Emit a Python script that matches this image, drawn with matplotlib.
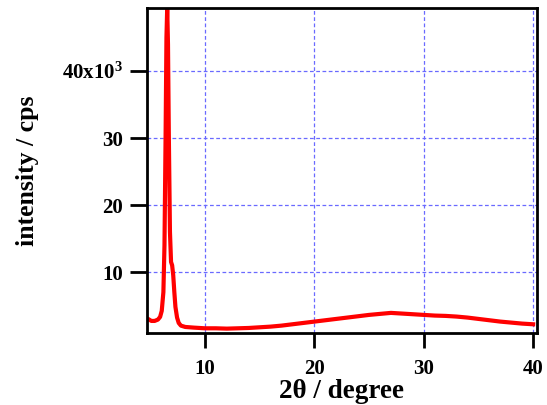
import matplotlib
matplotlib.use("Agg")
import matplotlib.pyplot as plt
from matplotlib.ticker import FixedLocator, FixedFormatter

# XRD pattern (2theta in degrees, intensity in 10^3 cps)
two_theta = [4.9, 5.1, 5.4, 5.7, 5.9, 6.05, 6.2, 6.3, 6.4, 6.48, 6.55, 6.62,
             6.7, 6.8, 6.9, 7.0, 7.1, 7.2, 7.3, 7.45, 7.6, 7.8, 8.2, 9.0,
             10.0, 11.0, 12.0, 13.0, 14.0, 15.0, 16.0, 17.0, 18.0, 19.0,
             20.0, 21.0, 22.0, 23.0, 24.0, 25.0, 26.0, 27.0, 28.0, 29.0,
             30.0, 31.0, 32.0, 33.0, 34.0, 35.0, 36.0, 37.0, 38.0, 39.0, 40.0]
intensity = [2.9, 2.7, 2.7, 2.9, 3.3, 4.2, 7.0, 14.0, 30.0, 45.0, 49.5, 44.0,
             30.0, 16.0, 11.5, 11.0, 9.5, 7.0, 4.8, 3.2, 2.4, 2.0, 1.8, 1.7,
             1.6, 1.6, 1.55, 1.6, 1.65, 1.75, 1.85, 2.0, 2.2, 2.4,
             2.6, 2.8, 3.0, 3.2, 3.4, 3.6, 3.75, 3.9, 3.8, 3.7,
             3.6, 3.5, 3.45, 3.35, 3.2, 3.0, 2.8, 2.6, 2.45, 2.3, 2.2]

xticks = [10, 20, 30, 40]
yticks = [10, 20, 30, 40]
ytick_labels = ["10", "20", "30", "40x10$^{3}$"]

plt.rcParams["font.family"] = "Liberation Serif"
plt.rcParams["font.weight"] = "bold"
plt.rcParams["mathtext.fontset"] = "custom"
plt.rcParams["mathtext.rm"] = "Liberation Serif:bold"
plt.rcParams["mathtext.default"] = "rm"

fig = plt.figure(figsize=(5.47, 4.05), dpi=100)
ax = fig.add_axes([0.2687, 0.1778, 0.713, 0.8024])

ax.plot(two_theta, intensity, color="red", lw=3, solid_joinstyle="round")

ax.set_xlim(4.7, 40.35)
ax.set_ylim(0.9, 49.4)
ax.xaxis.set_major_locator(FixedLocator(xticks))
ax.yaxis.set_major_locator(FixedLocator(yticks))
ax.yaxis.set_major_formatter(FixedFormatter(ytick_labels))

ax.grid(True, color="#6a6aff", linestyle=(0, (3, 2)), linewidth=0.9)
for s in ax.spines.values():
    s.set_linewidth(2)
ax.tick_params(axis="x", direction="out", length=11, width=2, labelsize=15, pad=8)
ax.tick_params(axis="y", direction="out", length=12, width=2, labelsize=15, pad=5)

ax.set_xlabel("2θ / degree", fontsize=19.5, fontweight="bold", labelpad=0)
ax.set_ylabel("intensity / cps", fontsize=18.5, fontweight="bold", labelpad=17)

fig.savefig("out.png", dpi=100)
